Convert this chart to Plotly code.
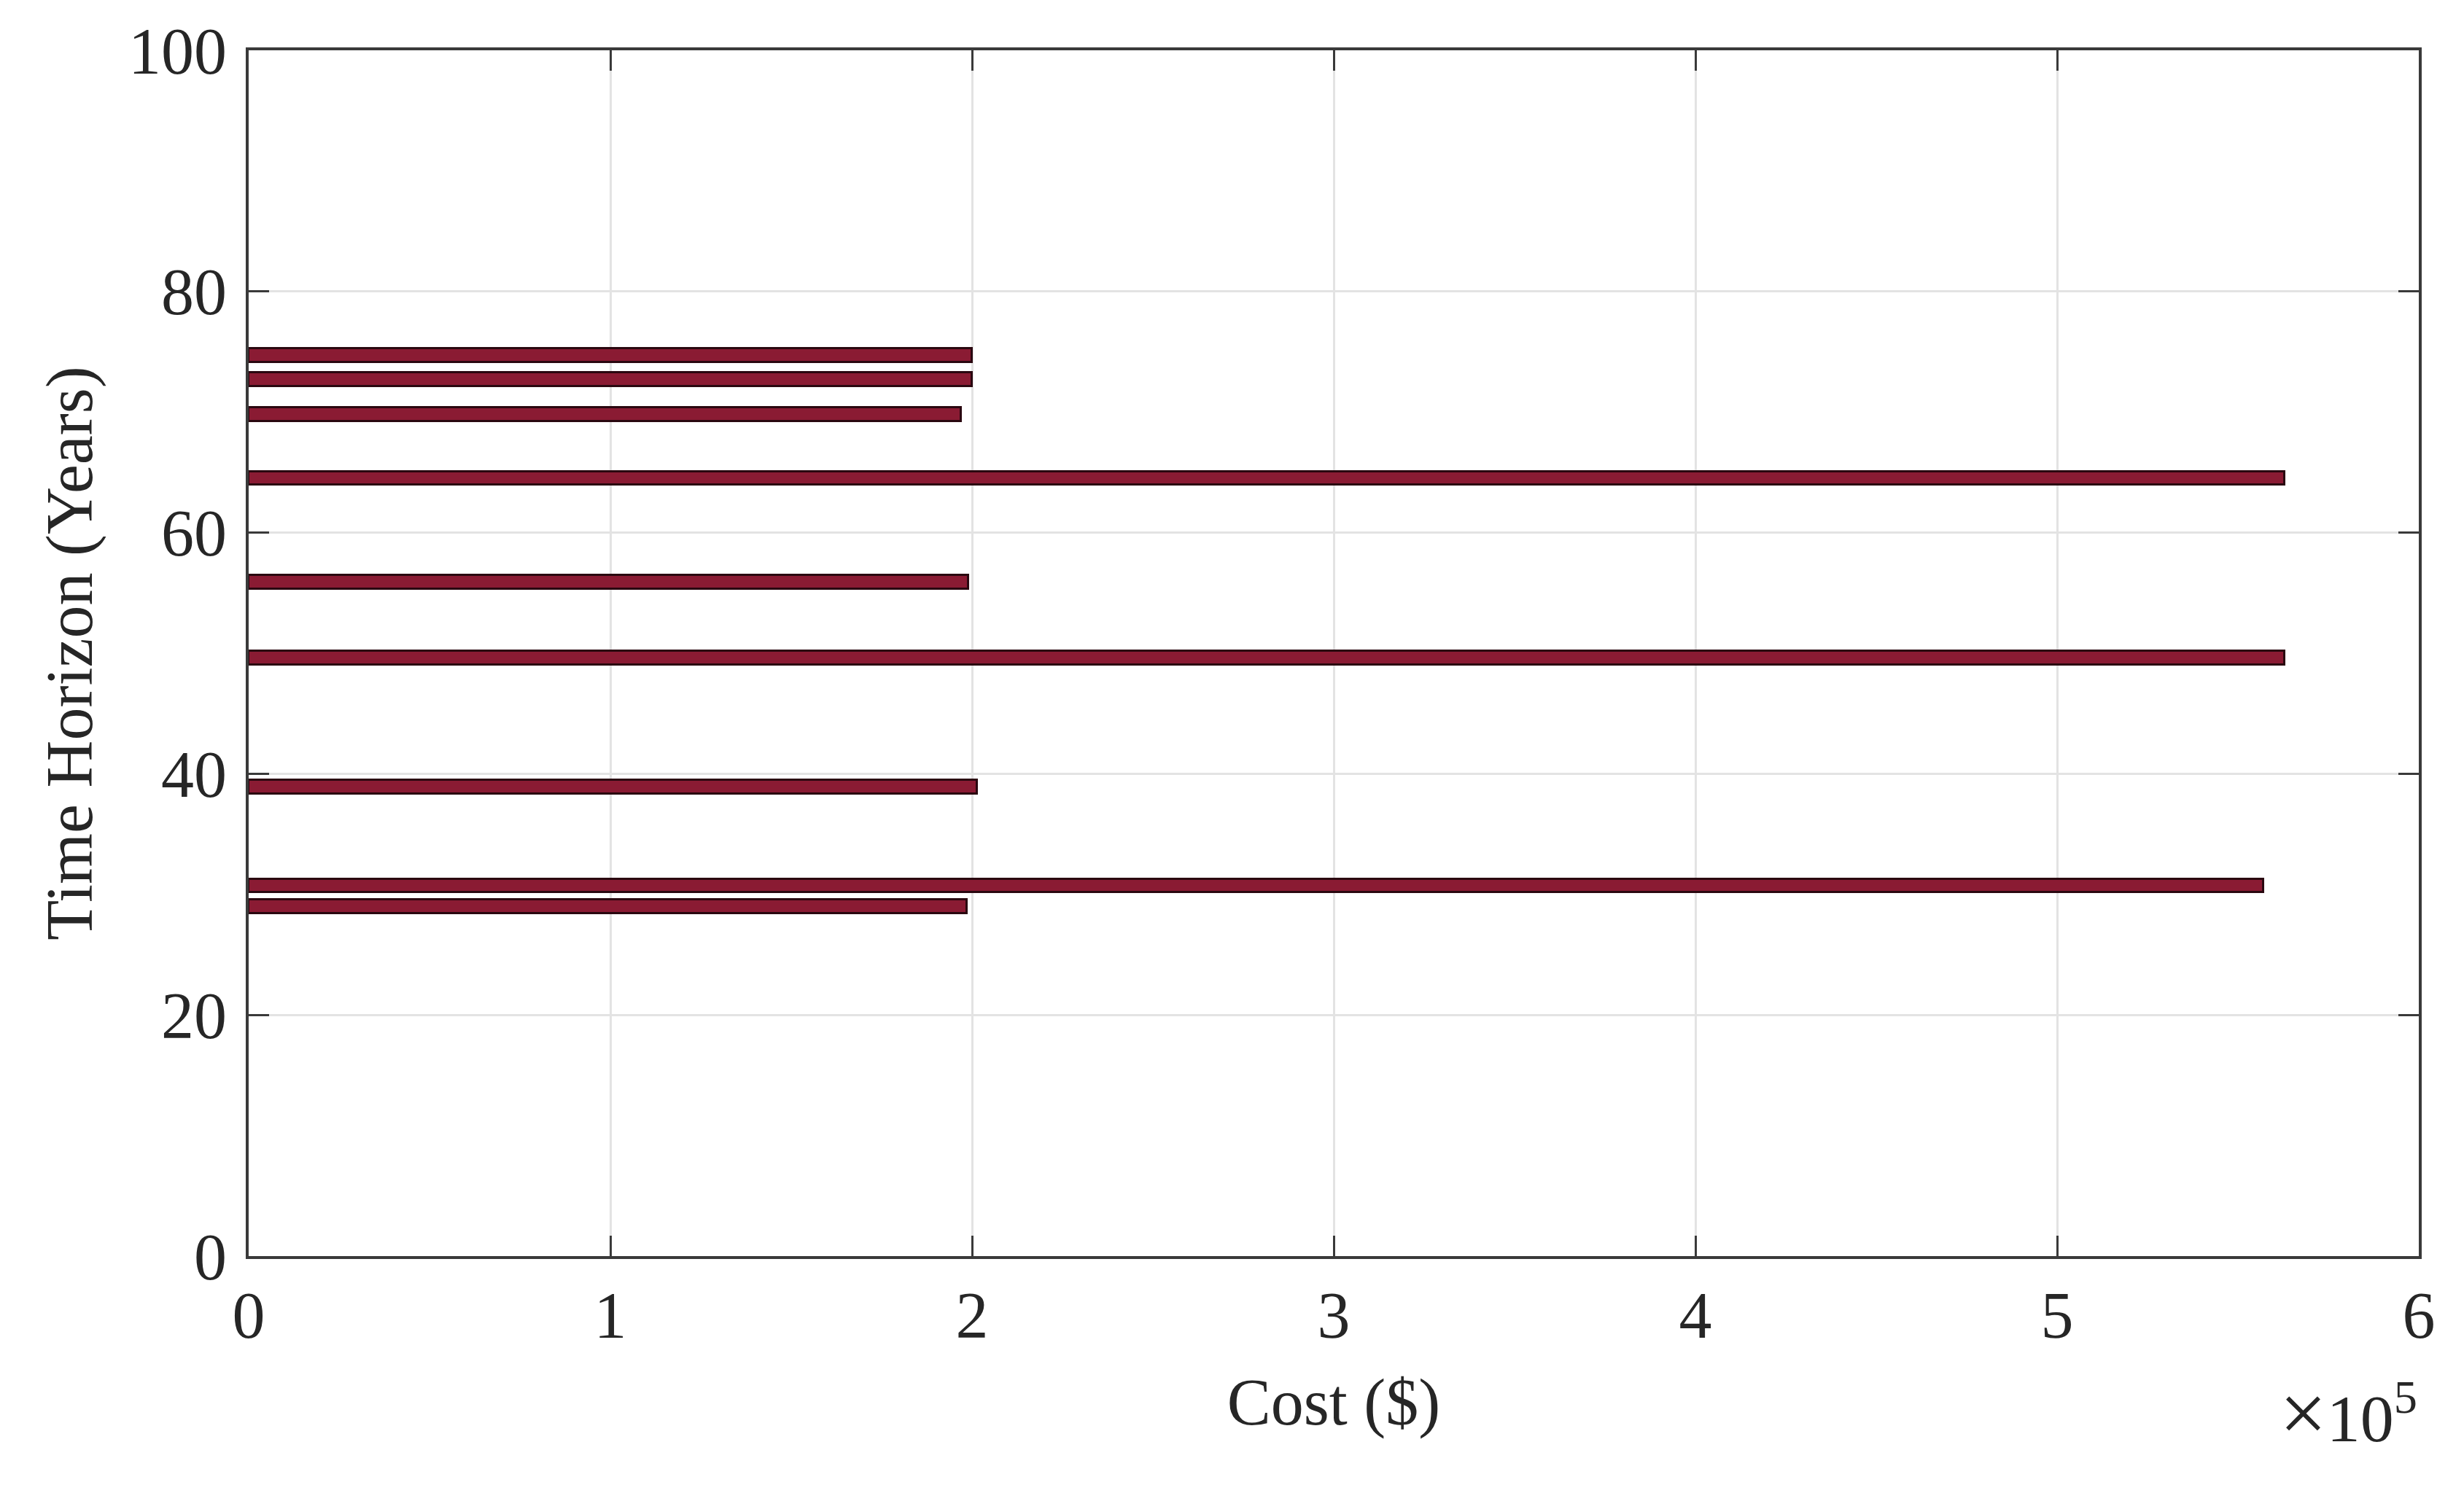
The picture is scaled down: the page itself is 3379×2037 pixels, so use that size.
import plotly.graph_objects as go

# Data
years = [74.7, 72.7, 69.8, 64.5, 55.9, 49.6, 38.9, 30.7, 29.0]
costs = [2.00e5, 2.00e5, 1.97e5, 5.63e5, 1.99e5, 5.63e5, 2.015e5, 5.57e5, 1.985e5]

x_tickvals = [0, 1e5, 2e5, 3e5, 4e5, 5e5, 6e5]
x_ticktext = ["0", "1", "2", "3", "4", "5", "6"]
y_tickvals = [0, 20, 40, 60, 80, 100]

FONT = "Liberation Serif, Times New Roman, serif"
TXT = "#262626"
AX = "#3a3a3a"
GRID = "#e3e3e3"

fig = go.Figure()
fig.add_trace(go.Bar(
    x=costs, y=years, orientation="h", width=1.12,
    marker=dict(color="#8A1B33", line=dict(color="#2a0810", width=3)),
    showlegend=False,
))

fig.update_layout(
    width=3379, height=2037,
    margin=dict(l=333, r=70, t=61, b=322),
    paper_bgcolor="white", plot_bgcolor="white",
    font=dict(family=FONT, size=90, color=TXT),
    bargap=0,
    annotations=[dict(
        text="<span style='font-size:115px'>×</span>10<sup>5</sup>",
        xref="paper", yref="paper",
        x=1.0, y=-0.13, xanchor="right", yanchor="middle",
        showarrow=False, font=dict(family=FONT, size=92, color=TXT),
    )],
)
fig.update_xaxes(
    range=[0, 6e5], tickvals=x_tickvals, ticktext=x_ticktext,
    showline=True, linecolor=AX, linewidth=4, mirror="ticks",
    ticks="inside", ticklen=28, tickwidth=3, tickcolor=AX,
    showgrid=True, gridcolor=GRID, gridwidth=3, zeroline=False,
    tickfont=dict(family=FONT, size=90, color=TXT),
    title=dict(text="Cost ($)", standoff=39, font=dict(family=FONT, size=90, color=TXT)),
)
fig.update_yaxes(
    range=[0, 100], tickvals=y_tickvals,
    showline=True, linecolor=AX, linewidth=4, mirror="ticks",
    ticks="inside", ticklen=28, tickwidth=3, tickcolor=AX,
    showgrid=True, gridcolor=GRID, gridwidth=3, zeroline=False,
    ticklabelstandoff=8,
    tickfont=dict(family=FONT, size=90, color=TXT),
    title=dict(text="Time Horizon (Years)", standoff=21, font=dict(family=FONT, size=90, color=TXT)),
)

fig.write_html("out.html")
